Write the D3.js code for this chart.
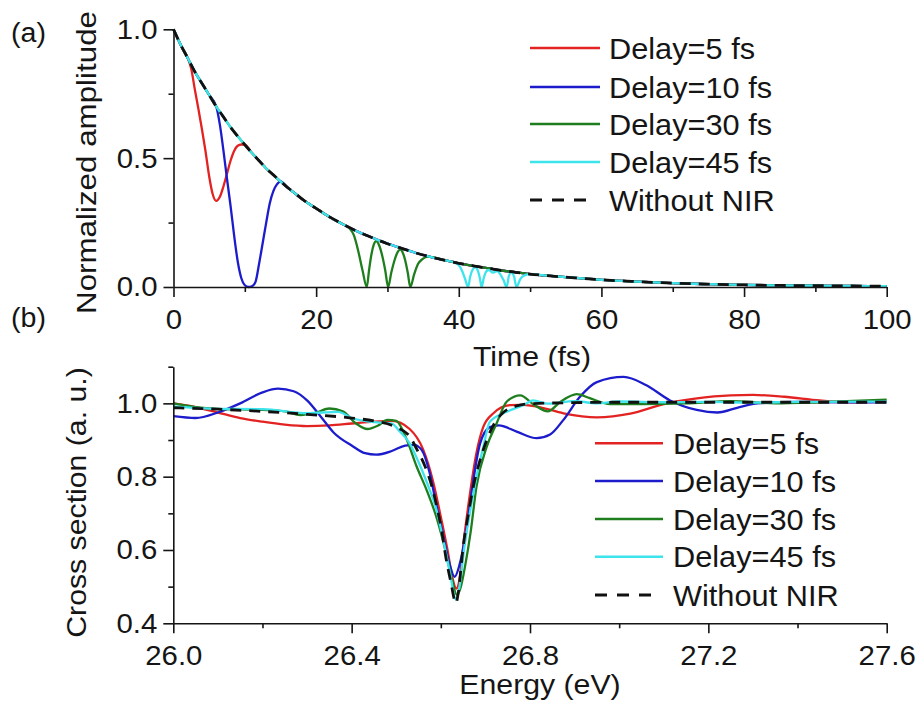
<!DOCTYPE html>
<html>
<head>
<meta charset="utf-8">
<script src="https://cdn.jsdelivr.net/npm/d3@7/dist/d3.min.js"></script>
<style>
  html, body { margin: 0; padding: 0; background: #fff; }
  svg { display: block; font-family: "Liberation Sans", Arial, Helvetica, sans-serif; }
</style>
</head>
<body>
<svg id="chart" width="919" height="702"></svg>
<script>
// ---------------- data ----------------
const seriesNames  = ["Delay=5 fs", "Delay=10 fs", "Delay=30 fs", "Delay=45 fs", "Without NIR"];
const seriesColors = ["#e32222", "#1c1ccc", "#1e7e1e", "#3de4ec", "#111111"];

// (a) time-domain amplitude
const timeTicks      = [0, 20, 40, 60, 80, 100];
const timeMinorTicks = [10, 30, 50, 70, 90];
const ampTicks       = [0, 0.5, 1.0];
const ampMinorTicks  = [0.25, 0.75];

// free decay (without NIR)
const timeRef = [0,1,2,3,4,5,6,7,8,9,10,11,12,13,14,15,16,17,18,20,22,24,26,28,30,32,34,36,38,40,42,44,46,48,50,52,55,60,65,70,75,80,85,90,95,100];
const ampRef  = [1.0,0.94,0.888,0.835,0.79,0.745,0.70,0.66,0.62,0.585,0.552,0.52,0.49,0.46,0.435,0.41,0.386,0.364,0.342,0.305,0.27,0.24,0.213,0.19,0.168,0.15,0.132,0.117,0.104,0.092,0.082,0.073,0.064,0.057,0.05,0.045,0.038,0.028,0.021,0.015,0.011,0.008,0.006,0.005,0.004,0.003];

// windows where each delayed pulse departs from the free decay: [time, amplitude]
const win5  = [[2,0.888],[2.5,0.845],[3,0.765],[3.5,0.69],[4,0.61],[4.5,0.525],[5,0.43],[5.5,0.36],[6,0.334],[6.5,0.35],[7,0.39],[7.5,0.44],[8,0.49],[8.5,0.528],[9,0.548],[9.5,0.553],[10,0.552]];
const win10 = [[6,0.70],[6.5,0.63],[7,0.53],[7.5,0.42],[8,0.315],[8.5,0.2],[9,0.1],[9.5,0.035],[10,0.007],[10.5,0],[11,0.003],[11.5,0.02],[12,0.09],[12.5,0.17],[13,0.25],[13.5,0.325],[14,0.372],[14.5,0.398],[15,0.41]];
const win30 = [[24,0.24],[24.7,0.227],[25.3,0.2],[25.9,0.14],[26.5,0.065],[27.1,0],[27.43,0.068],[27.75,0.126],[28.08,0.164],[28.4,0.178],[28.83,0.162],[29.25,0.123],[29.68,0.066],[30.1,0],[30.53,0.055],[30.95,0.1],[31.38,0.133],[31.8,0.145],[32.15,0.133],[32.5,0.102],[32.85,0.055],[33.2,0],[33.75,0.05],[34.3,0.09],[34.9,0.108],[35.5,0.117],[36,0.117]];
const win45 = [[38,0.104],[39.5,0.094],[40,0.085],[40.5,0.06],[40.9,0.03],[41.3,0],[41.6,0.04],[41.95,0.068],[42.3,0.076],[42.65,0.065],[42.95,0.035],[43.2,0],[43.5,0.035],[43.85,0.06],[44.2,0.066],[44.8,0.056],[45.4,0.062],[45.8,0.05],[46.3,0.025],[46.7,0],[47.05,0.045],[47.4,0.057],[47.75,0.04],[48.1,0],[48.6,0.03],[49.2,0.045],[50,0.05]];

// (b) absorption cross section
const energyTicks      = [26.0, 26.4, 26.8, 27.2, 27.6];
const energyMinorTicks = [26.2, 26.6, 27.0, 27.4];
const csTicks          = [0.4, 0.6, 0.8, 1.0];
const csMinorTicks     = [0.5, 0.7, 0.9, 1.1];

const csDelay5  = [[26.0,1.0],[26.05,0.99],[26.1,0.975],[26.15,0.96],[26.2,0.95],[26.25,0.942],[26.3,0.938],[26.35,0.94],[26.4,0.945],[26.45,0.95],[26.49,0.952],[26.53,0.93],[26.56,0.875],[26.583,0.785],[26.6,0.69],[26.615,0.6],[26.625,0.53],[26.635,0.495],[26.642,0.52],[26.652,0.63],[26.665,0.75],[26.68,0.865],[26.695,0.935],[26.718,0.973],[26.755,0.995],[26.785,0.996],[26.82,0.99],[26.875,0.973],[26.95,0.962],[27.025,0.972],[27.1,0.998],[27.17,1.013],[27.25,1.022],[27.3,1.023],[27.37,1.018],[27.45,1.008],[27.52,1.003],[27.6,1.005]];
const csDelay10 = [[26.0,0.965],[26.05,0.96],[26.1,0.975],[26.15,1.0],[26.2,1.03],[26.235,1.04],[26.27,1.033],[26.3,1.008],[26.33,0.965],[26.36,0.92],[26.4,0.885],[26.43,0.864],[26.455,0.86],[26.49,0.87],[26.52,0.885],[26.54,0.887],[26.557,0.873],[26.575,0.81],[26.588,0.735],[26.605,0.64],[26.62,0.56],[26.631,0.527],[26.642,0.56],[26.654,0.63],[26.665,0.72],[26.673,0.79],[26.688,0.89],[26.71,0.935],[26.73,0.94],[26.77,0.923],[26.815,0.905],[26.845,0.915],[26.875,0.955],[26.912,1.018],[26.95,1.058],[27.01,1.072],[27.06,1.05],[27.114,1.008],[27.174,0.982],[27.22,0.975],[27.27,0.99],[27.31,1.0],[27.4,1.004],[27.5,1.003],[27.6,1.003]];
const csDelay30 = [[26.0,1.0],[26.05,0.99],[26.1,0.985],[26.2,0.982],[26.25,0.978],[26.285,0.968],[26.32,0.975],[26.35,0.986],[26.38,0.978],[26.41,0.945],[26.435,0.93],[26.46,0.94],[26.48,0.955],[26.5,0.952],[26.524,0.9],[26.546,0.827],[26.568,0.764],[26.59,0.69],[26.61,0.6],[26.625,0.52],[26.636,0.477],[26.645,0.5],[26.655,0.56],[26.667,0.65],[26.68,0.773],[26.703,0.882],[26.725,0.945],[26.748,1.005],[26.778,1.022],[26.81,0.995],[26.84,0.978],[26.867,1.003],[26.905,1.025],[26.934,1.014],[26.98,0.998],[27.05,0.998],[27.15,1.0],[27.25,1.006],[27.35,1.0],[27.45,1.003],[27.6,1.01]];
const csDelay45 = [[26.0,0.992],[26.1,0.985],[26.2,0.984],[26.3,0.973],[26.37,0.977],[26.4,0.96],[26.44,0.95],[26.49,0.945],[26.508,0.923],[26.53,0.891],[26.55,0.84],[26.57,0.78],[26.59,0.71],[26.605,0.63],[26.62,0.54],[26.634,0.465],[26.642,0.5],[26.652,0.6],[26.665,0.7],[26.68,0.8],[26.695,0.88],[26.71,0.95],[26.748,0.977],[26.785,0.995],[26.807,1.008],[26.84,0.999],[26.9,1.006],[26.95,1.0],[27.0,1.005],[27.1,1.003],[27.2,1.004],[27.3,1.002],[27.4,1.004],[27.6,1.005]];
const csNoNIR   = [[26.0,0.988],[26.1,0.984],[26.2,0.978],[26.3,0.97],[26.4,0.96],[26.45,0.952],[26.5,0.935],[26.53,0.91],[26.546,0.875],[26.565,0.827],[26.58,0.773],[26.591,0.718],[26.602,0.652],[26.612,0.575],[26.622,0.515],[26.634,0.455],[26.639,0.482],[26.65,0.608],[26.662,0.7],[26.673,0.773],[26.688,0.845],[26.703,0.9],[26.72,0.945],[26.74,0.975],[26.77,0.993],[26.8,0.999],[26.9,1.002],[27.0,1.003],[27.2,1.003],[27.4,1.003],[27.6,1.003]];

// ---------------- drawing ----------------
const svg = d3.select("#chart");
svg.append("rect").attr("width", 919).attr("height", 702).attr("fill", "#fff");

const INK = "#151515";

// a delayed pulse equals the free decay outside its own window
const refPairs = timeRef.map((t, i) => [t, ampRef[i]]);
function withWindow(win) {
  const t0 = win[0][0], t1 = win[win.length - 1][0];
  return refPairs.filter(p => p[0] < t0).concat(win, refPairs.filter(p => p[0] > t1));
}

function addText(parent, str, x, y, size, sx, anchor, rot) {
  const g = parent.append("g")
    .attr("transform", `translate(${x},${y})` + (rot ? ` rotate(${rot})` : "") + ` scale(${sx},1)`);
  g.append("text")
    .attr("text-anchor", anchor)
    .attr("font-size", size)
    .attr("fill", INK)
    .text(str);
  return g;
}

const TICK_FS = 28, TICK_SX = 1.05;

function drawAxes(x, y, xt, xm, yt, ym, xfmt) {
  const y0 = y.range()[0];
  const x0 = x.range()[0];

  const styleAxis = g => {
    g.attr("font-family", null).attr("font-size", TICK_FS).attr("color", INK);
    g.selectAll("path, line").attr("stroke", INK).attr("stroke-width", 1.6);
  };

  // minor ticks
  svg.append("g").attr("transform", `translate(0,${y0})`)
    .call(d3.axisBottom(x).tickValues(xm).tickSize(5).tickSizeOuter(0).tickFormat(""))
    .call(styleAxis).call(g => g.select(".domain").remove());
  svg.append("g").attr("transform", `translate(${x0},0)`)
    .call(d3.axisLeft(y).tickValues(ym).tickSize(5).tickSizeOuter(0).tickFormat(""))
    .call(styleAxis).call(g => g.select(".domain").remove());

  // major ticks and labels
  svg.append("g").attr("transform", `translate(0,${y0})`)
    .call(d3.axisBottom(x).tickValues(xt).tickSize(10).tickSizeOuter(0).tickPadding(12).tickFormat(xfmt))
    .call(styleAxis)
    .call(g => g.selectAll("text").attr("transform", `scale(${TICK_SX},1)`));
  svg.append("g").attr("transform", `translate(${x0},0)`)
    .call(d3.axisLeft(y).tickValues(yt).tickSize(10).tickSizeOuter(0).tickPadding(6).tickFormat(d3.format(".1f")))
    .call(styleAxis)
    .call(g => g.selectAll("text").attr("x", -16 / TICK_SX).attr("transform", `scale(${TICK_SX},1)`));
}

function drawSeries(x, y, datasets) {
  const line = d3.line().x(d => x(d[0])).y(d => y(d[1])).curve(d3.curveMonotoneX);
  datasets.forEach((data, i) => {
    const dashed = i === 4;
    svg.append("path")
      .datum(data)
      .attr("fill", "none")
      .attr("stroke", seriesColors[i])
      .attr("stroke-width", dashed ? 2.8 : 2.3)
      .attr("stroke-linejoin", "round")
      .attr("stroke-dasharray", dashed ? "11,8" : null)
      .attr("d", line);
  });
}

function drawLegend(lx0, lx1, tx, rows) {
  rows.forEach((ry, i) => {
    const dashed = i === 4;
    svg.append("line")
      .attr("x1", lx0).attr("x2", dashed ? lx1 - 10 : lx1)
      .attr("y1", ry).attr("y2", ry)
      .attr("stroke", seriesColors[i])
      .attr("stroke-width", dashed ? 2.8 : 2.4)
      .attr("stroke-dasharray", dashed ? "12,10" : null);
    addText(svg, seriesNames[i], tx, ry + 10.5, 29, 1.06, "start");
  });
}

// ---- panel (a) ----
const xT = d3.scaleLinear().domain([0, 100]).range([173.5, 886.7]);
const yA = d3.scaleLinear().domain([0, 1]).range([287, 29.3]);

drawSeries(xT, yA, [withWindow(win5), withWindow(win10), withWindow(win30), withWindow(win45), refPairs]);
drawAxes(xT, yA, timeTicks, timeMinorTicks, ampTicks, ampMinorTicks, d3.format("d"));
drawLegend(530, 600, 609, [48, 87, 124, 162, 200]);

addText(svg, "(a)", 11, 42, 27, 1.06, "start");
addText(svg, "Normalized amplitude", 96, 162.5, 27.5, 1.14, "middle", -90);
addText(svg, "Time (fs)", 532, 366, 27.5, 1.1, "middle");

// ---- panel (b) ----
const xE = d3.scaleLinear().domain([26.0, 27.6]).range([173.3, 886.7]);
const yB = d3.scaleLinear().domain([0.4, 1.1]).range([623.3, 366.7]);

drawSeries(xE, yB, [csDelay5, csDelay10, csDelay30, csDelay45, csNoNIR]);
drawAxes(xE, yB, energyTicks, energyMinorTicks, csTicks, csMinorTicks, d3.format(".1f"));
drawLegend(595, 663, 673, [443.3, 481, 519, 556.7, 595]);

addText(svg, "(b)", 11, 327, 27, 1.06, "start");
addText(svg, "Cross section (a. u.)", 86, 502.5, 27.5, 1.1, "middle", -90);
addText(svg, "Energy (eV)", 540, 694, 27.5, 1.1, "middle");
</script>
</body>
</html>
